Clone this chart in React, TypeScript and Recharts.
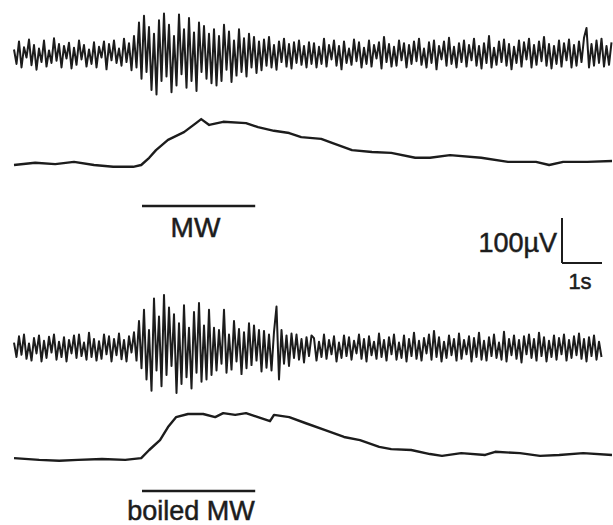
import React from 'react'
import { LineChart, Line, XAxis, YAxis, ReferenceLine } from 'recharts'

// sampled raw traces (µV), one sample every 0.0625 s starting at 0.05 s
const SAMPLE_DT = 0.0625
const SAMPLE_T0 = 0.05

const rawMW = [
  10, -22, 28, -30, 15, -8, 32, -25, 20, -35, 12, -18, 30, -28, 8, -20, 35, -15, 22, -30,
  18, -10, 25, -32, 14, -24, 30, -12, 20, -28, 10, -22, 26, -30, 16, -8, 28, -34, 22, -14,
  30, -20, 12, -26, 34, -18, 24, -36, 40, -30, 70, -55, 85, -40, 60, -80, 45, -90, 75, -60,
  90, -50, 65, -85, 40, -70, 88, -45, 55, -75, 80, -60, 48, -82, 70, -40, 62, -55, 45, -65,
  55, -70, 40, -60, 65, -35, 50, -62, 30, -48, 55, -40, 35, -50, 45, -30, 38, -42, 28, -36,
  32, -26, 38, -30, 20, -35, 28, -18, 34, -28, 22, -32, 26, -20, 30, -24, 18, -30, 26, -22,
  24, -30, 16, -22, 34, -28, 20, -12, 30, -26, 18, -34, 28, -20, 12, -24, 32, -16, 26, -30,
  14, -22, 30, -28, 20, -10, 26, -32, 38, -18, 22, -28, 16, -26, 30, -14, 24, -30, 20, -22,
  28, -16, 34, -24, 12, -30, 26, -20, 30, -34, 18, -12, 28, -26, 36, -22, 16, -30, 24, -18,
  30, -28, 20, -14, 34, -26, 18, -32, 24, -20, 40, -30, 14, -24, 28, -18, 32, -26, 22, -34,
  16, -20, 30, -28, 26, -12, 34, -30, 20, -24, 28, -16, 38, -26, 22, -32, 18, -22, 30, -28,
  24, -14, 32, -30, 20, -26, 28, -18, 36, 58, -30, 22, -26, 30, -20, 34, -28, 18, -24, 26
]

const rawBoiled = [
  12, -20, 26, -15, 30, -24, 10, -28, 22, -12, 28, -30, 16, -22, 25, -10, 30, -26, 14, -20,
  24, -30, 18, -12, 28, -22, 30, -18, 12, -26, 34, -20, 20, -28, 15, -24, 30, -14, 26, -30,
  20, -16, 32, -25, 18, -30, 26, -10, 35, -28, 60, -45, 85, -70, 40, -95, 110, -50, 70, -85,
  118, -60, 90, -40, 75, -100, 55, -80, 95, -65, 45, -90, 80, -55, 100, -75, 50, -70, 85, -60,
  45, -50, 40, -35, 85, -55, 30, -48, 60, -30, 42, -58, 35, -45, 55, -38, 50, -28, 40, -52,
  38, -44, 30, -50, 36, 92, -70, 40, -35, 28, -40, 32, -22, 30, -26, 20, -32, 24, -18, 28,
  22, -28, 14, -20, 30, -24, 18, -14, 26, -30, 12, -22, 28, -18, 24, -26, 16, -12, 30, -24,
  20, -30, 26, -16, 14, -24, 32, -20, 18, -28, 24, -14, 30, -26, 12, -22, 28, -30, 20, -18,
  34, -24, 16, -28, 22, -12, 30, -26, 38, -20, 24, -30, 14, -22, 28, -16, 20, -28, 32, -24,
  18, -14, 26, -30, 22, -20, 34, -26, 16, -28, 24, -18, 30, -22, 12, -26, 36, -30, 20, -16,
  28, -24, 18, -32, 26, -14, 30, -22, 20, -28, 34, -18, 24, -30, 16, -20, 28, -26, 22, -14,
  30, -28, 18, -22, 26, -16, 32, -24, 20, -30, 24, -18, 28, -26, 14, -20
]

// integrated traces (µV above baseline)
const intMWTime = [
  0.05, 0.58, 1.08, 1.55, 2.05, 2.53, 3.03, 3.23, 3.43, 3.6, 3.9, 4.3, 4.6, 4.73, 4.93, 5.28,
  5.85, 6.15, 6.55, 6.93, 7.23, 7.73, 8.0, 8.5, 9.0, 9.48, 10.08, 10.45, 10.95, 11.73, 12.4,
  13.1, 13.43, 13.78, 14.38, 15.0
]
const intMWValue = [
  0, 5, 2, 7, 0, -4, -4, 0, 16, 33, 56, 73, 93, 102, 89, 96,
  93, 84, 76, 71, 62, 58, 49, 33, 29, 27, 16, 16, 22, 16, 7,
  7, 0, 7, 7, 9
]

const intBoiledTime = [
  0.05, 0.68, 1.18, 1.65, 2.25, 2.83, 3.23, 3.43, 3.7, 3.9, 4.1, 4.4, 4.78, 5.08, 5.28, 5.58,
  5.85, 6.15, 6.45, 6.55, 6.93, 7.33, 7.83, 8.3, 8.7, 9.18, 9.48, 9.98, 10.45, 10.75, 11.23,
  11.83, 12.08, 12.7, 13.2, 13.68, 14.28, 15.0
]
const intBoiledValue = [
  2, -2, -4, -2, 0, -2, 2, 20, 42, 71, 93, 100, 100, 93, 102, 98,
  102, 93, 84, 98, 93, 80, 64, 49, 42, 27, 22, 20, 11, 7, 13,
  9, 16, 13, 7, 9, 13, 9
]

// stimulus application (s) and scale bar
const stimulus = [3.25, 6.08]
const scaleBarTime = 13.75
const scaleBarSeconds = 1
const scaleBarMicroVolts = 100

const W = 613
const H = 525
const PX_PER_UV = 0.45
const INK = '#1c1c1c'

const toRows = (vals: number[]) => vals.map((v, i) => ({ t: SAMPLE_T0 + i * SAMPLE_DT, v }))
const zip = (ts: number[], vs: number[]) => ts.map((t, i) => ({ t, v: vs[i] }))

// y domain so that 0 µV sits at pixel row yPx
const domainAt = (yPx: number): [number, number] => [(yPx - H) / PX_PER_UV, yPx / PX_PER_UV]

export default function App() {
  const traces = [
    { id: 'raw1', data: toRows(rawMW), y: 54, w: 2 },
    { id: 'int1', data: zip(intMWTime, intMWValue), y: 165, w: 2.4 },
    { id: 'raw2', data: toRows(rawBoiled), y: 348, w: 2 },
    { id: 'int2', data: zip(intBoiledTime, intBoiledValue), y: 459, w: 2.4 }
  ]
  const font = "'Liberation Sans', Arial, sans-serif"
  return (
    <div style={{ position: 'absolute', left: 0, top: 0, width: W, height: H, background: '#fff' }}>
      <LineChart width={W} height={H} margin={{ top: 0, right: 0, bottom: 0, left: 0 }}>
        <XAxis type="number" dataKey="t" domain={[-0.3, 15.025]} hide allowDataOverflow />
        {traces.map((tr) => (
          <YAxis key={tr.id} yAxisId={tr.id} domain={domainAt(tr.y)} hide allowDataOverflow />
        ))}
        <YAxis yAxisId="bar" domain={domainAt(263)} hide allowDataOverflow />
        <YAxis yAxisId="page" domain={[0, H]} reversed hide allowDataOverflow />
        {traces.map((tr) => (
          <Line
            key={tr.id}
            yAxisId={tr.id}
            data={tr.data}
            dataKey="v"
            type="linear"
            stroke={INK}
            strokeWidth={tr.w}
            strokeLinejoin="round"
            dot={false}
            activeDot={false}
            isAnimationActive={false}
          />
        ))}
        <ReferenceLine
          yAxisId="page"
          segment={[{ x: stimulus[0], y: 206 }, { x: stimulus[1], y: 206 }]}
          stroke={INK}
          strokeWidth={2.6}
        />
        <ReferenceLine
          yAxisId="page"
          segment={[{ x: stimulus[0], y: 491 }, { x: stimulus[1], y: 491 }]}
          stroke={INK}
          strokeWidth={2.6}
        />
        <ReferenceLine
          yAxisId="bar"
          segment={[{ x: scaleBarTime, y: scaleBarMicroVolts }, { x: scaleBarTime, y: 0 }]}
          stroke={INK}
          strokeWidth={2}
        />
        <ReferenceLine
          yAxisId="bar"
          segment={[{ x: scaleBarTime, y: 0 }, { x: scaleBarTime + scaleBarSeconds, y: 0 }]}
          stroke={INK}
          strokeWidth={2}
        />
      </LineChart>
      <svg width={W} height={H} style={{ position: 'absolute', left: 0, top: 0, pointerEvents: 'none' }}>
        <g fill={INK} stroke={INK} strokeWidth={0.5} fontFamily={font}>
          <text x={195.5} y={237} fontSize={28} textAnchor="middle">MW</text>
          <text x={191} y={520} fontSize={27} textAnchor="middle">boiled MW</text>
          <text x={557} y={252} fontSize={27} textAnchor="end">100µV</text>
          <text x={580} y={289} fontSize={22} textAnchor="middle">1s</text>
        </g>
      </svg>
    </div>
  )
}
